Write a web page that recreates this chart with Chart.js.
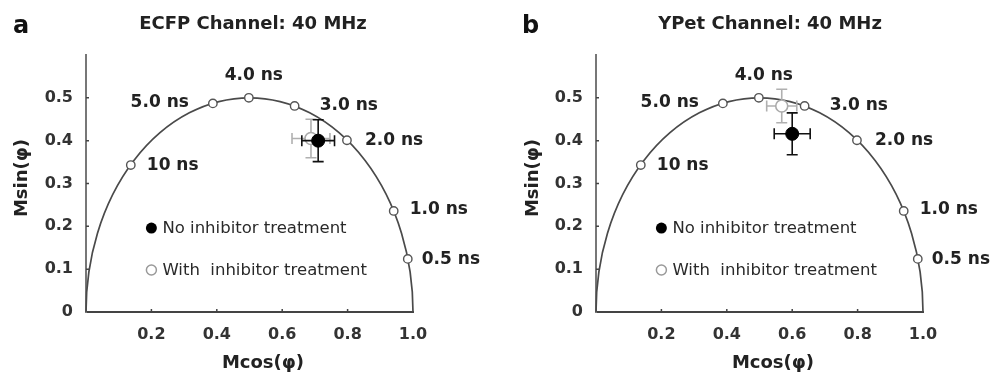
<!DOCTYPE html>
<html>
<head>
<meta charset="utf-8">
<script src="https://cdn.jsdelivr.net/npm/chart.js@4.4.1/dist/chart.umd.min.js"></script>
<style>
  html, body { margin: 0; padding: 0; background: #fff; }
  #wrap { position: relative; width: 993px; height: 375px; }
  .panel { position: absolute; top: 0; height: 375px; }
</style>
</head>
<body>
<div id="wrap">
  <div class="panel" style="left:0;width:497px"><canvas id="chart-a" width="497" height="375"></canvas></div>
  <div class="panel" style="left:497px;width:496px"><canvas id="chart-b" width="496" height="375"></canvas></div>
</div>
<script>
// Tick values
var xTicks = [0.2, 0.4, 0.6, 0.8, 1.0];
var yTicks = [0, 0.1, 0.2, 0.3, 0.4, 0.5];

// Reference lifetimes on the universal circle (40 MHz)
var lifetimeLabels = ['0.5 ns', '1.0 ns', '2.0 ns', '3.0 ns', '4.0 ns', '5.0 ns', '10 ns'];
var lifetimeG = [0.984, 0.941, 0.798, 0.638, 0.498, 0.388, 0.137];
var lifetimeS = [0.124, 0.236, 0.401, 0.481, 0.500, 0.487, 0.343];

// Universal circle: centre [g, s] and radius
var circleCenter = [0.5, 0];
var circleRadius = 0.5;

var legendLabels = ['No inhibitor treatment', 'With  inhibitor treatment'];

// Measured points [g, s] and errors [dg, ds]
var ecfpNoInhibitor = [0.71, 0.40];
var ecfpNoInhibitorErr = [0.05, 0.049];
var ecfpWithInhibitor = [0.688, 0.405];
var ecfpWithInhibitorErr = [0.058, 0.045];
var ypetNoInhibitor = [0.60, 0.416];
var ypetNoInhibitorErr = [0.055, 0.049];
var ypetWithInhibitor = [0.568, 0.481];
var ypetWithInhibitorErr = [0.046, 0.039];

// label placement next to each lifetime marker: dx, dy, align
var labelPlacement = [[14, 1, 'left'], [16, -1, 'left'], [18, 0, 'left'], [25, 0, 'left'],
                      [5, -22, 'center'], [-24, -1, 'right'], [16, 0, 'left']];

// Phasor plot decorations
var phasorPlugin = {
    id: 'phasor',
    beforeDatasetsDraw: function (chart) {
        var ctx = chart.ctx, x = chart.scales.x, y = chart.scales.y;
        var cx = x.getPixelForValue(circleCenter[0]);
        var cy = y.getPixelForValue(circleCenter[1]);
        var rx = x.getPixelForValue(circleCenter[0] + circleRadius) - cx;
        var ry = cy - y.getPixelForValue(circleCenter[1] + circleRadius);
        ctx.save();
        ctx.strokeStyle = '#4a4a4a';
        ctx.lineWidth = 1.7;
        ctx.beginPath();
        ctx.ellipse(cx, cy, rx, ry, 0, Math.PI, 2 * Math.PI);
        ctx.stroke();
        ctx.restore();
    },
    beforeDatasetDraw: function (chart, args) {
        var ds = chart.data.datasets[args.index];
        if (!ds.errorBars) return;
        var ctx = chart.ctx, x = chart.scales.x, y = chart.scales.y;
        var p = ds.data[0], e = ds.errorBars;
        var px = x.getPixelForValue(p.x), py = y.getPixelForValue(p.y);
        var x0 = x.getPixelForValue(p.x - e[0]), x1 = x.getPixelForValue(p.x + e[0]);
        var y0 = y.getPixelForValue(p.y - e[1]), y1 = y.getPixelForValue(p.y + e[1]);
        var cap = 5.5;
        ctx.save();
        ctx.strokeStyle = ds.errorColor;
        ctx.lineWidth = 1.6;
        ctx.beginPath();
        ctx.moveTo(x0, py); ctx.lineTo(x1, py);
        ctx.moveTo(x0, py - cap); ctx.lineTo(x0, py + cap);
        ctx.moveTo(x1, py - cap); ctx.lineTo(x1, py + cap);
        ctx.moveTo(px, y0); ctx.lineTo(px, y1);
        ctx.moveTo(px - cap, y0); ctx.lineTo(px + cap, y0);
        ctx.moveTo(px - cap, y1); ctx.lineTo(px + cap, y1);
        ctx.stroke();
        ctx.restore();
    },
    afterDraw: function (chart, args, opts) {
        var ctx = chart.ctx, x = chart.scales.x, y = chart.scales.y, area = chart.chartArea;
        ctx.save();

        // small inward tick marks
        ctx.strokeStyle = '#444';
        ctx.lineWidth = 1.5;
        ctx.beginPath();
        xTicks.slice(0, -1).forEach(function (v) {
            var px = x.getPixelForValue(v);
            ctx.moveTo(px, area.bottom); ctx.lineTo(px, area.bottom - 3);
        });
        yTicks.slice(1).forEach(function (v) {
            var py = y.getPixelForValue(v);
            ctx.moveTo(area.left, py); ctx.lineTo(area.left + 3, py);
        });
        ctx.stroke();

        // lifetime labels
        ctx.fillStyle = '#222';
        ctx.font = 'bold 17px "DejaVu Sans"';
        ctx.textBaseline = 'middle';
        lifetimeLabels.forEach(function (lbl, i) {
            var pl = labelPlacement[i];
            ctx.textAlign = pl[2];
            ctx.fillText(lbl, x.getPixelForValue(lifetimeG[i]) + pl[0], y.getPixelForValue(lifetimeS[i]) + pl[1]);
        });

        // legend inside the plot
        var lx = x.getPixelForValue(0.2);
        var rows = [y.getPixelForValue(0.196), y.getPixelForValue(0.098)];
        ctx.beginPath();
        ctx.arc(lx, rows[0], 5.5, 0, 2 * Math.PI);
        ctx.fillStyle = '#000';
        ctx.fill();
        ctx.beginPath();
        ctx.arc(lx, rows[1], 5, 0, 2 * Math.PI);
        ctx.strokeStyle = '#999';
        ctx.lineWidth = 1.5;
        ctx.stroke();
        ctx.font = '16.5px "DejaVu Sans"';
        ctx.fillStyle = '#2a2a2a';
        ctx.textAlign = 'left';
        ctx.fillText(legendLabels[0], lx + 11, rows[0] + 1);
        ctx.fillText(legendLabels[1], lx + 11, rows[1] + 1);

        // titles
        ctx.fillStyle = '#111';
        ctx.textBaseline = 'alphabetic';
        ctx.font = 'bold 24px "DejaVu Sans"';
        ctx.textAlign = 'left';
        ctx.fillText(opts.letter, opts.letterX, 33);
        ctx.font = 'bold 18px "DejaVu Sans"';
        ctx.textAlign = 'center';
        ctx.fillStyle = '#222';
        ctx.fillText(opts.title, area.left + opts.titleDx, 29);

        // axis titles
        ctx.textBaseline = 'middle';
        ctx.fillText('Mcos(φ)', area.left + 177, 363);
        ctx.translate(opts.yTitleX, 178);
        ctx.rotate(-Math.PI / 2);
        ctx.fillText('Msin(φ)', 0, 0);
        ctx.restore();
    }
};

function makePanel(canvasId, panel, noInh, noInhErr, withInh, withInhErr) {
    var ctx = document.getElementById(canvasId).getContext('2d');
    return new Chart(ctx, {
        type: 'scatter',
        data: {
            datasets: [
                {
                    label: legendLabels[0],
                    data: [{x: noInh[0], y: noInh[1]}],
                    errorBars: noInhErr,
                    errorColor: '#111',
                    pointRadius: 6.5,
                    pointBackgroundColor: '#000',
                    pointBorderColor: '#000',
                    pointBorderWidth: 1
                },
                {
                    label: legendLabels[1],
                    data: [{x: withInh[0], y: withInh[1]}],
                    errorBars: withInhErr,
                    errorColor: '#b0b0b0',
                    pointRadius: 6,
                    pointBackgroundColor: '#fff',
                    pointBorderColor: '#aaa',
                    pointBorderWidth: 1.6
                },
                {
                    label: 'lifetimes',
                    data: lifetimeG.map(function (g, i) { return {x: g, y: lifetimeS[i]}; }),
                    pointRadius: 4.2,
                    pointBackgroundColor: '#fff',
                    pointBorderColor: '#555',
                    pointBorderWidth: 1.4
                }
            ]
        },
        options: {
            responsive: false,
            animation: false,
            events: [],
            clip: false,
            layout: {padding: {top: 55, right: panel.rightPad, left: 0, bottom: 0}},
            plugins: {
                legend: {display: false},
                tooltip: {enabled: false},
                phasor: panel
            },
            scales: {
                x: {
                    type: 'linear',
                    min: 0, max: 1,
                    afterBuildTicks: function (s) { s.ticks = xTicks.map(function (v) { return {value: v}; }); },
                    afterFit: function (s) { s.height = 63; },
                    grid: {display: false, drawTicks: false},
                    border: {display: true, color: '#444', width: 2},
                    ticks: {
                        padding: 13,
                        color: '#333',
                        font: {family: 'DejaVu Sans', size: 16, weight: 'bold'},
                        maxRotation: 0,
                        callback: function (v) { return v.toFixed(1); }
                    }
                },
                y: {
                    type: 'linear',
                    min: 0, max: 0.6,
                    afterBuildTicks: function (s) { s.ticks = yTicks.map(function (v) { return {value: v}; }); },
                    afterFit: function (s) { s.width = panel.yWidth; },
                    grid: {display: false, drawTicks: false},
                    border: {display: true, color: '#777', width: 2},
                    ticks: {
                        padding: 13,
                        color: '#333',
                        font: {family: 'DejaVu Sans', size: 16, weight: 'bold'},
                        callback: function (v) { return v === 0 ? '0' : v.toFixed(1); }
                    }
                }
            }
        },
        plugins: [phasorPlugin]
    });
}

makePanel('chart-a', {letter: 'a', letterX: 13, title: 'ECFP Channel: 40 MHz', titleDx: 167,
                      yTitleX: 22, yWidth: 86, rightPad: 84},
          ecfpNoInhibitor, ecfpNoInhibitorErr, ecfpWithInhibitor, ecfpWithInhibitorErr);
makePanel('chart-b', {letter: 'b', letterX: 25, title: 'YPet Channel: 40 MHz', titleDx: 174,
                      yTitleX: 36, yWidth: 99, rightPad: 70},
          ypetNoInhibitor, ypetNoInhibitorErr, ypetWithInhibitor, ypetWithInhibitorErr);
</script>
</body>
</html>
